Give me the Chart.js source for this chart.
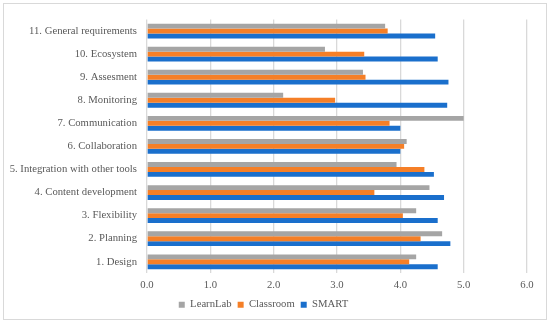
<!DOCTYPE html>
<html>
<head>
<meta charset="utf-8">
<script src="https://cdn.jsdelivr.net/npm/chart.js@4"></script>
<style>
html,body{margin:0;padding:0;background:#fff;}
#wrap{width:550px;height:324px;position:relative;}
</style>
</head>
<body>
<div id="wrap"><canvas id="chart" width="550" height="324"></canvas></div>
<script>

const categories = [
"11. General requirements",
"10. Ecosystem",
"9. Assesment",
"8. Monitoring",
"7. Communication",
"6. Collaboration",
"5. Integration with other tools",
"4. Content development",
"3. Flexibility",
"2. Planning",
"1. Design"
];

const learnLab = [3.76, 2.81, 3.41, 2.15, 5.0, 4.10, 3.94, 4.46, 4.25, 4.66, 4.25];

const classroom = [3.80, 3.43, 3.45, 2.97, 3.83, 4.06, 4.38, 3.59, 4.04, 4.32, 4.14];

const smart = [4.55, 4.59, 4.76, 4.74, 4.0, 4.0, 4.53, 4.69, 4.59, 4.79, 4.59];

const xTicks = [0, 1, 2, 3, 4, 5, 6];


const frame = {
id:"frame",
beforeDraw(chart){
const ctx = chart.ctx;
ctx.save();
ctx.fillStyle = "#fff";
ctx.fillRect(0, 0, chart.width, chart.height);
ctx.strokeStyle = "#d9d9d9";
ctx.lineWidth = 1;
ctx.strokeRect(3.5, 3.5, 543, 316);
ctx.restore();
}
};

const fontSpec = {family:"Liberation Serif", size:10.7};


new Chart(
document.getElementById("chart"),
{
type:"bar",
data:{
labels:categories,
datasets:[
{label:"LearnLab", data:learnLab, backgroundColor:"#A5A5A5"},
{label:"Classroom", data:classroom, backgroundColor:"#F57F27"},
{label:"SMART", data:smart, backgroundColor:"#1A6FCC"}
]
},
options:{
indexAxis:"y",
responsive:false,
animation:false,
categoryPercentage:0.64,
barPercentage:1,
layout:{padding:{top:19.5, right:23, bottom:4, left:0}},
plugins:{
legend:{
position:"bottom",
labels:{
font:fontSpec,
color:"#595959",
boxWidth:6,
boxHeight:6,
padding:6
}
},
tooltip:{enabled:false}
},
scales:{
x:{
min:0,
max:6,
afterBuildTicks(scale){
scale.ticks = xTicks.map(v => ({value:v}));
},
afterFit(scale){
scale.height = 20;
},
grid:{color:"#d9d9d9", lineWidth:1.3, drawTicks:false},
border:{display:false},
ticks:{
padding:5,
font:fontSpec,
color:"#595959",
callback:v => v.toFixed(1)
}
},
y:{
afterFit(scale){
scale.width = 147;
},
grid:{display:false, drawTicks:false},
border:{display:false},
ticks:{
padding:10,
font:fontSpec,
color:"#595959"
}
}
}
},
plugins:[frame]
});

</script>
</body>
</html>
